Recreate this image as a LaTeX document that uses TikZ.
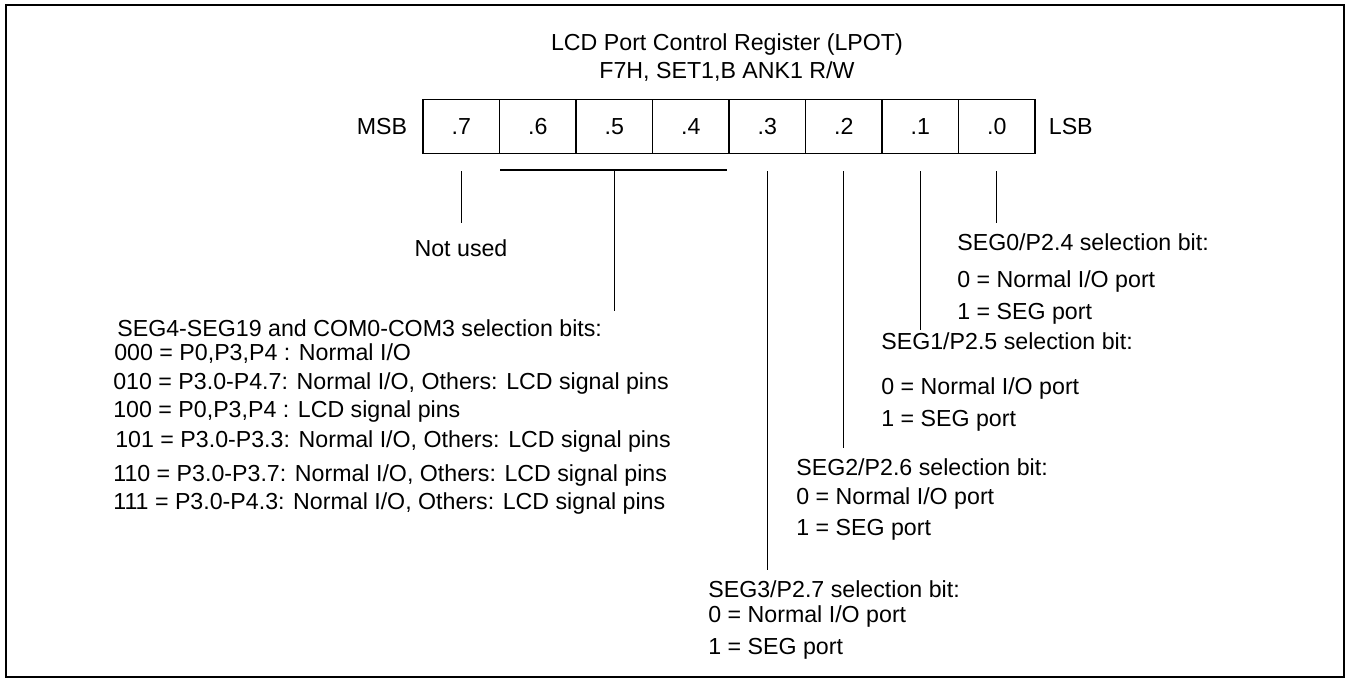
\documentclass[tikz,border=0pt]{standalone}
\usepackage{fontspec}
\setmainfont{Liberation Sans}
\usetikzlibrary{positioning}
\begin{document}
\begin{tikzpicture}[x=0.02cm,y=-0.02cm,
  every node/.style={inner sep=0pt,font=\fontsize{13.2}{15}\selectfont},
  bitcell/.style={draw,line width=0.6pt,minimum width=1.53cm,minimum height=1.08cm},
  note/.style={anchor=base west},
  lead/.style={line width=0.6pt}]
  \useasboundingbox (0,0) rectangle (1348,679);
  \draw[line width=1.2pt] (6,5) rectangle (1344,677);
  \node[anchor=base] (title) at (727,50.5) {LCD Port Control Register (LPOT)};
  \node[anchor=base] (addr) at (727,78.5) {F7H, SET1,B ANK1 R/W};
  \foreach \b [count=\i from 0] in {7,6,...,0}
    \node[bitcell] (b\b) at ({461.25+76.5*\i},126.5) {.\b};
  \node[left=0.3cm of b7] (msb) {MSB};
  \node[right=0.26cm of b0] (lsb) {LSB};
  \coordinate (e7) at (b7.south |- 0,223);
  \coordinate (e5) at (b5.south |- 0,311);
  \coordinate (e3) at (b3.south |- 0,570);
  \coordinate (e2) at (b2.south |- 0,448);
  \coordinate (e1) at (b1.south |- 0,330);
  \coordinate (e0) at (b0.south |- 0,223);
  \foreach \b in {7,3,2,1,0}
    \draw[lead] ([yshift=-0.34cm]b\b.south) -- (e\b);
  \draw[lead,line width=0.8pt] ([xshift=0.03cm,yshift=-0.32cm]b6.south west)
    -- ([xshift=-0.06cm,yshift=-0.32cm]b4.south east);
  \draw[lead] ([yshift=-0.32cm]b5.south) -- (e5);
  \node[anchor=base] (unused) at (461,256.5) {Not used};
  \node[note] (s4h) at (117,336.5) {SEG4-SEG19 and COM0-COM3 selection bits:};
  \node[note] (s4a) at (114,360.5) {000 = P0,P3,P4 : Normal I/O};
  \node[note] (s4b) at (113,389.5) {010 = P3.0-P4.7: Normal I/O, Others: LCD signal pins};
  \node[note] (s4c) at (113,417.5) {100 = P0,P3,P4 : LCD signal pins};
  \node[note] (s4d) at (115,447.5) {101 = P3.0-P3.3: Normal I/O, Others: LCD signal pins};
  \node[note] (s4e) at (113,481.5) {110 = P3.0-P3.7: Normal I/O, Others: LCD signal pins};
  \node[note] (s4f) at (113,509.5) {111 = P3.0-P4.3: Normal I/O, Others: LCD signal pins};
  \node[note] (s0h) at (957,250.5) {SEG0/P2.4 selection bit:};
  \node[note] (s0a) at (957,287.5) {0 = Normal I/O port};
  \node[note] (s0b) at (957,319.5) {1 = SEG port};
  \node[note] (s1h) at (881,349.5) {SEG1/P2.5 selection bit:};
  \node[note] (s1a) at (881,394.5) {0 = Normal I/O port};
  \node[note] (s1b) at (881,426.5) {1 = SEG port};
  \node[note] (s2h) at (796,475.5) {SEG2/P2.6 selection bit:};
  \node[note] (s2a) at (796,504.5) {0 = Normal I/O port};
  \node[note] (s2b) at (796,535.5) {1 = SEG port};
  \node[note] (s3h) at (708,597.5) {SEG3/P2.7 selection bit:};
  \node[note] (s3a) at (708,622.5) {0 = Normal I/O port};
  \node[note] (s3b) at (708,654.5) {1 = SEG port};
\end{tikzpicture}
\end{document}
